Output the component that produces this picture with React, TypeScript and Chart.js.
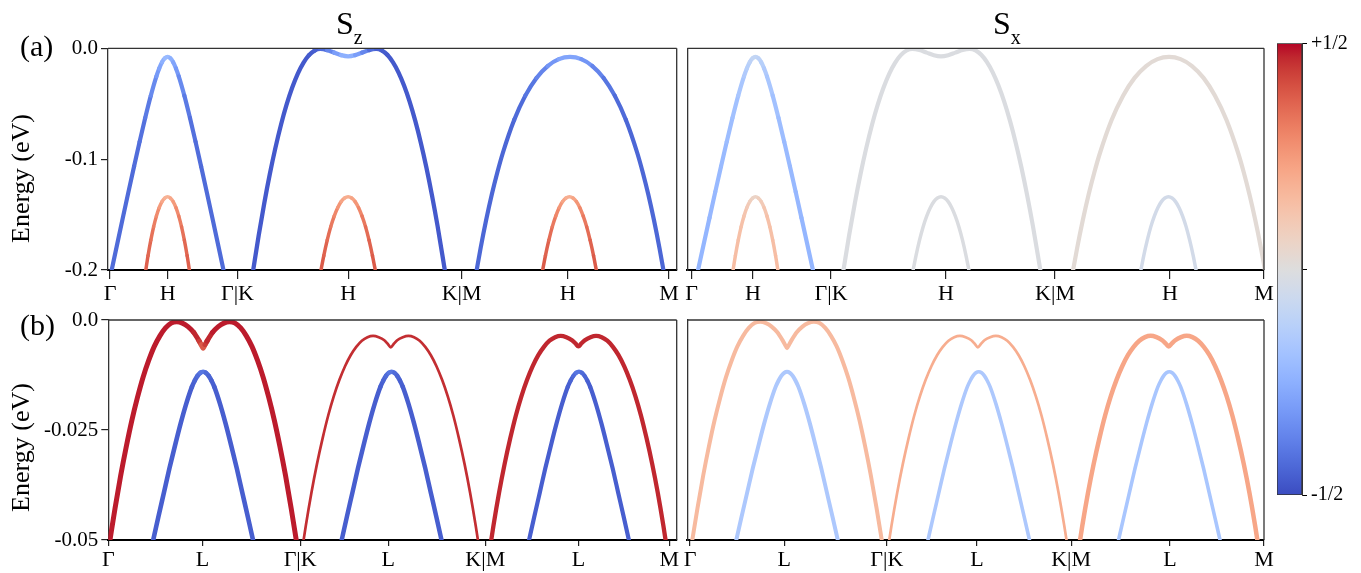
import React, { useEffect, useRef } from 'react';
import { Chart, registerables } from 'chart.js';
Chart.register(...registerables);

const serif = "'Liberation Serif','Times New Roman',Times,serif";
Chart.defaults.font.family = serif;
Chart.defaults.color = '#000';

// ---------- axis ticks ----------
const topLabels = ['Γ', 'H', 'Γ|K', 'H', 'K|M', 'H', 'M'];
const bottomLabels = ['Γ', 'L', 'Γ|K', 'L', 'K|M', 'L', 'M'];
const tlTicks = [0, 10.3, 22.8, 42.6, 62.9, 81.9, 100];
const trTicks = [-0.8, 9.87, 23.45, 43.47, 62.45, 82.47, 98.83];
const blTicks = [0, 16.8, 34.2, 49.9, 67.2, 83.8, 100];
const brTicks = [-0.1, 16.4, 34.4, 50.2, 66.7, 84.0, 100.5];
const yTicksTop = [-0.2, -0.1, 0];
const yLabelsTop = ['-0.2', '-0.1', '0.0'];
const yTicksBottom = [-0.05, -0.025, 0];
const yLabelsBottom = ['-0.05', '-0.025', '0.0'];
const cbTicks = [-0.5, 0, 0.5];
const cbLabels = ['-1/2', '', '+1/2'];

// ---------- (a) bands along Γ-H-Γ|K-H-K|M-H-M ----------
const aK = [0.1, 1.3, 2.3, 3.3, 4.3, 5.3, 6.3, 7.3, 8.3, 8.8, 9.3, 9.8, 10.3, 10.8, 11.3, 11.8, 12.3, 13.3, 14.3, 15.3, 16.3, 17.3, 18.3, 19.3, 20.5];
const aE = [-0.2048, -0.1763, -0.1528, -0.1295, -0.1066, -0.0842, -0.0627, -0.0427, -0.0253, -0.0182, -0.0126, -0.009, -0.0078, -0.009, -0.0126, -0.0182, -0.0253, -0.0427, -0.0627, -0.0842, -0.1066, -0.1295, -0.1528, -0.1763, -0.2048];
const bK = [6.3, 6.8, 7.3, 7.8, 8.3, 8.8, 9.3, 9.8, 10.3, 10.8, 11.3, 11.8, 12.3, 12.8, 13.3, 13.8, 14.3];
const bE = [-0.2034, -0.1872, -0.1731, -0.1611, -0.1514, -0.1438, -0.1383, -0.1351, -0.134, -0.1351, -0.1383, -0.1438, -0.1514, -0.1611, -0.1731, -0.1872, -0.2034];
const cK = [25.6, 26.6, 27.6, 28.6, 29.6, 30.6, 31.6, 32.6, 33.6, 34.6, 35.6, 36.6, 37.6, 38.85, 40.1, 41.35, 42.6, 43.85, 45.1, 46.35, 47.6, 48.6, 49.6, 50.6, 51.6, 52.6, 53.6, 54.6, 55.6, 56.6, 57.6, 58.6, 59.9];
const cE = [-0.2006, -0.1688, -0.1396, -0.1132, -0.0896, -0.0687, -0.0506, -0.0354, -0.0228, -0.0131, -0.0062, -0.002, -0.0006, -0.0016, -0.0039, -0.0062, -0.0072, -0.0062, -0.0039, -0.0016, -0.0006, -0.0019, -0.0059, -0.0125, -0.0217, -0.0336, -0.0481, -0.0653, -0.0851, -0.1075, -0.1326, -0.1603, -0.2003];
const dK = [37.62, 38.24, 38.86, 39.48, 40.11, 40.73, 41.35, 41.98, 42.6, 43.22, 43.85, 44.47, 45.09, 45.72, 46.34, 46.96, 47.58];
const dE = [-0.2034, -0.1872, -0.1731, -0.1611, -0.1514, -0.1438, -0.1383, -0.1351, -0.134, -0.1351, -0.1383, -0.1438, -0.1514, -0.1611, -0.1731, -0.1872, -0.2034];
const eK = [65.5, 66.3, 67.3, 68.3, 69.3, 70.3, 72.3, 74.3, 76.3, 78.3, 80.3, 82.3, 84.3, 86.3, 88.3, 90.3, 92.3, 94.3, 95.3, 96.3, 97.3, 98.3, 99.1];
const eE = [-0.2029, -0.1802, -0.1547, -0.1319, -0.1118, -0.094, -0.0647, -0.0427, -0.0267, -0.016, -0.0098, -0.0078, -0.0098, -0.016, -0.0267, -0.0427, -0.0647, -0.094, -0.1118, -0.1319, -0.1547, -0.1802, -0.2029];
const fK = [77.28, 77.89, 78.51, 79.12, 79.74, 80.35, 80.97, 81.58, 82.2, 82.82, 83.43, 84.05, 84.66, 85.28, 85.89, 86.51, 87.12];
const fE = [-0.2034, -0.1872, -0.1731, -0.1611, -0.1514, -0.1438, -0.1383, -0.1351, -0.134, -0.1351, -0.1383, -0.1438, -0.1514, -0.1611, -0.1731, -0.1872, -0.2034];

// spin projections (a)
const szA = [-0.43, -0.43, -0.43, -0.43, -0.43, -0.42, -0.41, -0.38, -0.33, -0.3, -0.27, -0.23, -0.2, -0.23, -0.27, -0.3, -0.33, -0.38, -0.41, -0.42, -0.43, -0.43, -0.43, -0.43, -0.43];
const szB = [0.38, 0.37, 0.35, 0.33, 0.3, 0.27, 0.23, 0.2, 0.17, 0.2, 0.23, 0.27, 0.3, 0.33, 0.35, 0.37, 0.38];
const szC = [-0.47, -0.47, -0.47, -0.47, -0.47, -0.47, -0.47, -0.47, -0.47, -0.47, -0.47, -0.46, -0.45, -0.4, -0.33, -0.27, -0.23, -0.27, -0.33, -0.4, -0.45, -0.46, -0.47, -0.47, -0.47, -0.47, -0.47, -0.47, -0.47, -0.47, -0.47, -0.47, -0.47];
const szD = [0.39, 0.38, 0.36, 0.34, 0.31, 0.28, 0.24, 0.21, 0.19, 0.21, 0.24, 0.28, 0.31, 0.34, 0.36, 0.38, 0.39];
const szE = [-0.44, -0.44, -0.44, -0.44, -0.44, -0.44, -0.44, -0.42, -0.39, -0.35, -0.3, -0.27, -0.3, -0.35, -0.39, -0.42, -0.44, -0.44, -0.44, -0.44, -0.44, -0.44, -0.44];
const szF = [0.39, 0.38, 0.36, 0.34, 0.31, 0.28, 0.24, 0.21, 0.18, 0.21, 0.24, 0.28, 0.31, 0.34, 0.36, 0.38, 0.39];
const sxA = [-0.23, -0.23, -0.23, -0.22, -0.22, -0.21, -0.2, -0.18, -0.16, -0.14, -0.12, -0.1, -0.09, -0.1, -0.12, -0.14, -0.16, -0.18, -0.2, -0.21, -0.22, -0.22, -0.23, -0.23, -0.23];
const sxB = [0.15, 0.15, 0.14, 0.14, 0.13, 0.11, 0.09, 0.07, 0.05, 0.07, 0.09, 0.11, 0.13, 0.14, 0.14, 0.15, 0.15];
const sxC = -0.01;
const sxD = -0.01;
const sxE = 0.02;
const sxF = -0.04;

// ---------- (b) bands along Γ-L-Γ|K-L-K|M-L-M ----------
const pK = [0.2, 1.2, 2.2, 3.2, 4.2, 5.2, 6.2, 7.2, 8.2, 9.2, 10.2, 11.2, 12.2, 13.2, 14.2, 15.2, 16.2, 16.55, 16.9, 17.25, 17.6, 18.6, 19.6, 20.6, 21.6, 22.6, 23.6, 24.6, 25.6, 26.6, 27.6, 28.6, 29.6, 30.6, 31.6, 32.6, 33.6];
const pE = [-0.0508, -0.0428, -0.0354, -0.0288, -0.0228, -0.0176, -0.013, -0.0092, -0.006, -0.0036, -0.0018, -0.0007, -0.0004, -0.0007, -0.0015, -0.0028, -0.0048, -0.0056, -0.0064, -0.0056, -0.0048, -0.0028, -0.0015, -0.0007, -0.0004, -0.0007, -0.0018, -0.0036, -0.006, -0.0092, -0.013, -0.0176, -0.0228, -0.0288, -0.0354, -0.0428, -0.0508];
const qK = [7.9, 8.9, 9.9, 10.9, 11.9, 12.9, 13.9, 14.9, 15.4, 15.9, 16.4, 16.9, 17.4, 17.9, 18.4, 18.9, 19.9, 20.9, 21.9, 22.9, 23.9, 24.9, 25.9];
const qE = [-0.0506, -0.0449, -0.0393, -0.0337, -0.0285, -0.0235, -0.019, -0.0152, -0.0138, -0.0127, -0.012, -0.01175, -0.012, -0.0127, -0.0138, -0.0152, -0.019, -0.0235, -0.0285, -0.0337, -0.0393, -0.0449, -0.0506];
const rK = [34.6, 35.2, 36.2, 37.2, 38.2, 39.2, 40.2, 41.2, 42.2, 43.2, 44.2, 45.2, 46.2, 47.2, 48.2, 49.2, 49.8, 50.35, 50.9, 51.5, 52.5, 53.5, 54.5, 55.5, 56.5, 57.5, 58.5, 59.5, 60.5, 61.5, 62.5, 63.5, 64.5, 65.5, 66.1];
const rE = [-0.0518, -0.0468, -0.0393, -0.0327, -0.0269, -0.0217, -0.0173, -0.0136, -0.0105, -0.008, -0.0061, -0.0047, -0.0039, -0.0036, -0.0039, -0.0046, -0.0054, -0.0062, -0.0054, -0.0046, -0.0039, -0.0036, -0.0039, -0.0047, -0.0061, -0.008, -0.0105, -0.0136, -0.0173, -0.0217, -0.0269, -0.0327, -0.0393, -0.0468, -0.0518];
const sK = [41.5, 42.5, 43.5, 44.5, 45.5, 46.5, 47.5, 48.5, 49.0, 49.5, 50.0, 50.5, 51.0, 51.5, 52.0, 52.5, 53.5, 54.5, 55.5, 56.5, 57.5, 58.5, 59.5];
const sE = [-0.0506, -0.0449, -0.0393, -0.0337, -0.0285, -0.0235, -0.019, -0.0152, -0.0138, -0.0127, -0.012, -0.01175, -0.012, -0.0127, -0.0138, -0.0152, -0.019, -0.0235, -0.0285, -0.0337, -0.0393, -0.0449, -0.0506];
const tK = [68.05, 68.65, 69.65, 70.65, 71.65, 72.65, 73.65, 74.65, 75.65, 76.65, 77.65, 78.65, 79.65, 80.65, 81.65, 82.65, 83.25, 83.8, 84.35, 84.95, 85.95, 86.95, 87.95, 88.95, 89.95, 90.95, 91.95, 92.95, 93.95, 94.95, 95.95, 96.95, 97.95, 98.95, 99.55];
const tE = [-0.0518, -0.0468, -0.0393, -0.0327, -0.0269, -0.0217, -0.0173, -0.0136, -0.0105, -0.008, -0.0061, -0.0047, -0.0039, -0.0036, -0.0039, -0.0046, -0.0053, -0.006, -0.0053, -0.0046, -0.0039, -0.0036, -0.0039, -0.0047, -0.0061, -0.008, -0.0105, -0.0136, -0.0173, -0.0217, -0.0269, -0.0327, -0.0393, -0.0468, -0.0518];
const uK = [74.9, 75.9, 76.9, 77.9, 78.9, 79.9, 80.9, 81.9, 82.4, 82.9, 83.4, 83.9, 84.4, 84.9, 85.4, 85.9, 86.9, 87.9, 88.9, 89.9, 90.9, 91.9, 92.9];
const uE = [-0.0506, -0.0449, -0.0393, -0.0337, -0.0285, -0.0235, -0.019, -0.0152, -0.0138, -0.0127, -0.012, -0.01175, -0.012, -0.0127, -0.0138, -0.0152, -0.019, -0.0235, -0.0285, -0.0337, -0.0393, -0.0449, -0.0506];

// spin projections (b)
const szP = [0.48, 0.48, 0.48, 0.48, 0.48, 0.48, 0.48, 0.48, 0.48, 0.48, 0.48, 0.48, 0.48, 0.48, 0.48, 0.48, 0.46, 0.42, 0.36, 0.42, 0.46, 0.48, 0.48, 0.48, 0.48, 0.48, 0.48, 0.48, 0.48, 0.48, 0.48, 0.48, 0.48, 0.48, 0.48, 0.48, 0.48];
const szQ = [-0.46, -0.46, -0.46, -0.46, -0.46, -0.46, -0.46, -0.46, -0.45, -0.44, -0.42, -0.39, -0.42, -0.44, -0.45, -0.46, -0.46, -0.46, -0.46, -0.46, -0.46, -0.46, -0.46];
const szR = 0.46;
const szS = [-0.46, -0.46, -0.46, -0.46, -0.46, -0.46, -0.46, -0.46, -0.45, -0.44, -0.42, -0.39, -0.42, -0.44, -0.45, -0.46, -0.46, -0.46, -0.46, -0.46, -0.46, -0.46, -0.46];
const szT = 0.47;
const szU = [-0.46, -0.46, -0.46, -0.46, -0.46, -0.46, -0.46, -0.46, -0.45, -0.44, -0.42, -0.39, -0.42, -0.44, -0.45, -0.46, -0.46, -0.46, -0.46, -0.46, -0.46, -0.46, -0.46];
const sxP = 0.16;
const sxQ = -0.16;
const sxR = 0.2;
const sxS = -0.16;
const sxT = 0.22;
const sxU = -0.17;

// coolwarm colormap table
const CW = [
  [59, 76, 192], [68, 90, 204], [77, 104, 215], [87, 117, 225], [98, 130, 234], [108, 142, 241], [119, 154, 247], [130, 165, 251],
  [141, 176, 254], [152, 185, 255], [163, 194, 255], [174, 201, 253], [184, 208, 249], [194, 213, 244], [204, 217, 238], [213, 219, 230],
  [221, 221, 221], [229, 216, 209], [236, 211, 197], [241, 204, 185], [245, 196, 173], [247, 187, 160], [247, 177, 148], [247, 166, 135],
  [244, 154, 123], [241, 141, 111], [236, 127, 99], [229, 112, 88], [222, 96, 77], [213, 80, 66], [203, 62, 56], [192, 40, 47], [180, 4, 38],
];
function cw(v: number): string {
  const t = Math.min(1, Math.max(0, v + 0.5)) * 32;
  const i = Math.min(31, Math.floor(t));
  const f = t - i;
  const a = CW[i], b = CW[i + 1];
  return `rgb(${Math.round(a[0] + (b[0] - a[0]) * f)},${Math.round(a[1] + (b[1] - a[1]) * f)},${Math.round(a[2] + (b[2] - a[2]) * f)})`;
}

type Band = { k: number[]; e: number[]; spin: number | number[]; w: number };

function makeDatasets(bands: Band[]) {
  return bands.map((b) => {
    const sp = b.spin;
    const ds: any = {
      data: b.k.map((x, i) => ({ x, y: b.e[i] })),
      borderWidth: b.w,
      borderColor: typeof sp === 'number' ? cw(sp) : cw(sp[0]),
      pointRadius: 0,
      pointHoverRadius: 0,
      fill: false,
      cubicInterpolationMode: 'monotone',
      clip: 0,
      borderCapStyle: 'round',
      borderJoinStyle: 'round',
    };
    if (typeof sp !== 'number') {
      ds.segment = { borderColor: (c: any) => cw((sp[c.p0DataIndex] + sp[c.p1DataIndex]) / 2) };
    }
    return ds;
  });
}

const frame = {
  id: 'frame',
  afterDatasetsDraw(chart: any) {
    const { ctx, chartArea: a } = chart;
    ctx.save();
    ctx.strokeStyle = '#333';
    ctx.lineWidth = 1.3;
    ctx.beginPath();
    ctx.moveTo(a.left, a.top);
    ctx.lineTo(a.right, a.top);
    ctx.moveTo(a.right, a.top);
    ctx.lineTo(a.right, a.bottom);
    ctx.stroke();
    ctx.restore();
  },
};

type Panel = {
  left: number; top: number; width: number; height: number;
  area: { l: number; t: number; r: number; b: number };
  xMin: number; xMax: number; xTicks: number[]; xLabels: string[];
  yMin: number; yMax: number; yTicks: number[]; yLabels: string[] | null;
  tickLen: number; tickPad: number; bands: Band[];
};

const panels: Panel[] = [
  {
    left: 0, top: 20, width: 700, height: 300, area: { l: 108, t: 48.3, r: 676.7, b: 270 },
    xMin: -0.36, xMax: 101.38, xTicks: tlTicks, xLabels: topLabels,
    yMin: -0.2, yMax: 0, yTicks: yTicksTop, yLabels: yLabelsTop, tickLen: 9, tickPad: 2,
    bands: [
      { k: aK, e: aE, spin: szA, w: 4.2 }, { k: bK, e: bE, spin: szB, w: 3.5 },
      { k: cK, e: cE, spin: szC, w: 4.3 }, { k: dK, e: dE, spin: szD, w: 3.5 },
      { k: eK, e: eE, spin: szE, w: 4.2 }, { k: fK, e: fE, spin: szF, w: 3.5 },
    ],
  },
  {
    left: 680, top: 20, width: 600, height: 300, area: { l: 687.3, t: 48.3, r: 1264, b: 270 },
    xMin: -1.57, xMax: 98.83, xTicks: trTicks, xLabels: topLabels,
    yMin: -0.2, yMax: 0, yTicks: yTicksTop, yLabels: null, tickLen: 9, tickPad: 2,
    bands: [
      { k: aK, e: aE, spin: sxA, w: 4.2 }, { k: bK, e: bE, spin: sxB, w: 3.5 },
      { k: cK, e: cE, spin: sxC, w: 4.2 }, { k: dK, e: dE, spin: sxD, w: 3.5 },
      { k: eK, e: eE, spin: sxE, w: 4.2 }, { k: fK, e: fE, spin: sxF, w: 3.5 },
    ],
  },
  {
    left: 0, top: 290, width: 700, height: 283, area: { l: 108.3, t: 320, r: 676.7, b: 540 },
    xMin: 0, xMax: 101.32, xTicks: blTicks, xLabels: bottomLabels,
    yMin: -0.05, yMax: 0, yTicks: yTicksBottom, yLabels: yLabelsBottom, tickLen: 6, tickPad: 1,
    bands: [
      { k: pK, e: pE, spin: szP, w: 5 }, { k: qK, e: qE, spin: szQ, w: 4.6 },
      { k: rK, e: rE, spin: szR, w: 2.7 }, { k: sK, e: sE, spin: szS, w: 4.5 },
      { k: tK, e: tE, spin: szT, w: 4.3 }, { k: uK, e: uE, spin: szU, w: 4.2 },
    ],
  },
  {
    left: 680, top: 290, width: 600, height: 283, area: { l: 687.3, t: 320, r: 1264, b: 540 },
    xMin: -0.58, xMax: 100.5, xTicks: brTicks, xLabels: bottomLabels,
    yMin: -0.05, yMax: 0, yTicks: yTicksBottom, yLabels: null, tickLen: 6, tickPad: 1,
    bands: [
      { k: pK, e: pE, spin: sxP, w: 4 }, { k: qK, e: qE, spin: sxQ, w: 4 },
      { k: rK, e: rE, spin: sxR, w: 2.7 }, { k: sK, e: sE, spin: sxS, w: 3.6 },
      { k: tK, e: tE, spin: sxT, w: 4.5 }, { k: uK, e: uE, spin: sxU, w: 3.6 },
    ],
  },
];

function buildPanel(canvas: HTMLCanvasElement, p: Panel) {
  const yW = p.area.l - p.left;
  const xH = p.top + p.height - p.area.b;
  const hasY = !!p.yLabels;
  return new Chart(canvas, {
    type: 'line',
    data: { datasets: makeDatasets(p.bands) },
    options: {
      animation: false,
      responsive: false,
      events: [],
      layout: { padding: { left: 0, top: p.area.t - p.top, right: p.left + p.width - p.area.r, bottom: 0 } },
      plugins: { legend: { display: false }, tooltip: { enabled: false } },
      scales: {
        x: {
          type: 'linear', min: p.xMin, max: p.xMax, z: 1,
          afterBuildTicks: (s: any) => { s.ticks = p.xTicks.map((v) => ({ value: v })); },
          afterFit: (s: any) => { s.height = xH; },
          ticks: {
            autoSkip: false, maxRotation: 0, minRotation: 0, padding: p.tickPad,
            font: { size: 22 }, color: '#000',
            callback: (_v: any, i: number) => p.xLabels[i],
          },
          grid: { display: true, drawOnChartArea: false, drawTicks: true, tickLength: p.tickLen, color: '#222', lineWidth: 1.2 },
          border: { display: true, color: '#000', width: 2 },
        },
        y: {
          type: 'linear', min: p.yMin, max: p.yMax, z: 1,
          afterBuildTicks: (s: any) => { s.ticks = p.yTicks.map((v) => ({ value: v })); },
          afterFit: (s: any) => { s.width = yW; },
          ticks: hasY
            ? { padding: 3, font: { size: 21 }, color: '#000', callback: (_v: any, i: number) => (p.yLabels as string[])[i] }
            : { display: false },
          grid: hasY
            ? { display: true, drawOnChartArea: false, drawTicks: true, tickLength: 7, color: '#222', lineWidth: 1.2 }
            : { display: false },
          border: { display: true, color: '#333', width: 1.3 },
        },
      },
    } as any,
    plugins: [frame],
  });
}

function buildColorbar(canvas: HTMLCanvasElement) {
  return new Chart(canvas, {
    type: 'bar',
    data: {
      labels: [''],
      datasets: [{
        data: [[-0.5, 0.5]] as any,
        backgroundColor: (c: any) => {
          const chart = c.chart;
          const a = chart.chartArea;
          if (!a) return 'rgba(0,0,0,0)';
          const g = chart.ctx.createLinearGradient(0, a.bottom, 0, a.top);
          CW.forEach((col, i) => g.addColorStop(i / 32, `rgb(${col[0]},${col[1]},${col[2]})`));
          return g;
        },
        borderColor: '#333', borderWidth: 1, borderSkipped: false,
        barPercentage: 1, categoryPercentage: 1,
      }],
    },
    options: {
      animation: false, responsive: false, events: [],
      layout: { padding: { left: 9, top: 23.3, right: 0, bottom: 25 } },
      plugins: { legend: { display: false }, tooltip: { enabled: false } },
      scales: {
        x: { display: false },
        y: {
          position: 'right', min: -0.5, max: 0.5,
          afterBuildTicks: (s: any) => { s.ticks = cbTicks.map((v) => ({ value: v })); },
          afterFit: (s: any) => { s.width = 59; },
          ticks: { font: { size: 20 }, color: '#000', padding: 4, callback: (_v: any, i: number) => cbLabels[i] },
          grid: { display: true, drawOnChartArea: false, drawTicks: true, tickLength: 5, color: '#000' },
          border: { display: true, color: '#333', width: 1 },
        },
      },
    } as any,
  });
}

const abs = (o: any) => ({ position: 'absolute' as const, fontFamily: serif, color: '#000', whiteSpace: 'nowrap' as const, ...o });

export default function App() {
  const refs = [useRef<HTMLCanvasElement>(null), useRef<HTMLCanvasElement>(null), useRef<HTMLCanvasElement>(null), useRef<HTMLCanvasElement>(null)];
  const cbRef = useRef<HTMLCanvasElement>(null);
  useEffect(() => {
    const charts: Chart[] = [];
    panels.forEach((p, i) => {
      const c = refs[i].current;
      if (c) charts.push(buildPanel(c, p));
    });
    if (cbRef.current) charts.push(buildColorbar(cbRef.current));
    return () => charts.forEach((c) => c.destroy());
  }, []);

  return (
    <div style={{ position: 'absolute', left: 0, top: 0, width: 1361, height: 573, background: '#fff', overflow: 'hidden' }}>
      {panels.map((p, i) => (
        <canvas key={i} ref={refs[i]} width={p.width} height={p.height}
          style={{ position: 'absolute', left: p.left, top: p.top, width: p.width, height: p.height }} />
      ))}
      <canvas ref={cbRef} width={93} height={500} style={{ position: 'absolute', left: 1268, top: 20, width: 93, height: 500 }} />
      <div style={abs({ left: 20, top: 31, fontSize: 30, lineHeight: '30px' })}>(a)</div>
      <div style={abs({ left: 20, top: 310, fontSize: 30, lineHeight: '30px' })}>(b)</div>
      <div style={abs({ left: 336, top: 6.5, fontSize: 32, lineHeight: '32px' })}>
        S<span style={{ fontSize: 20, verticalAlign: '-10px', lineHeight: 0 }}>z</span>
      </div>
      <div style={abs({ left: 993, top: 6.5, fontSize: 32, lineHeight: '32px' })}>
        S<span style={{ fontSize: 20, verticalAlign: '-10px', lineHeight: 0 }}>x</span>
      </div>
      <div style={abs({ left: 20.4 - 100, top: 178 - 15.5, width: 200, height: 31, lineHeight: '31px', fontSize: 26, textAlign: 'center', transform: 'rotate(-90deg)' })}>Energy (eV)</div>
      <div style={abs({ left: 20.4 - 100, top: 447.5 - 15.5, width: 200, height: 31, lineHeight: '31px', fontSize: 26, textAlign: 'center', transform: 'rotate(-90deg)' })}>Energy (eV)</div>
    </div>
  );
}
